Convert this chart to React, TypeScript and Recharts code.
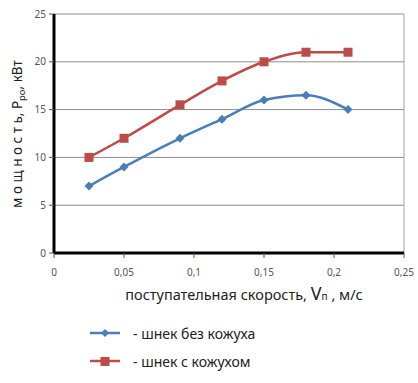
import React from "react";
import {
  LineChart,
  Line,
  XAxis,
  YAxis,
  CartesianGrid,
  ReferenceLine,
} from "recharts";

const speeds = [0.025, 0.05, 0.09, 0.12, 0.15, 0.18, 0.21];
const withoutCasing = [7, 9, 12, 14, 16, 16.5, 15];
const withCasing = [10, 12, 15.5, 18, 20, 21, 21];
const xTicks = [0, 0.05, 0.1, 0.15, 0.2, 0.25];
const yTicks = [0, 5, 10, 15, 20, 25];

const BLUE = "#4a7ebb";
const RED = "#be4b48";
const FONT = "'Noto Sans', 'Open Sans', sans-serif";

const data = speeds.map((v, i) => ({
  v,
  a: withoutCasing[i],
  b: withCasing[i],
}));

const fmt = (n: number) => String(n).replace(".", ",");

function Diamond(props: any) {
  const { cx, cy } = props;
  if (cx == null || cy == null) return null;
  const r = 4.5;
  return (
    <polygon
      points={`${cx},${cy - r} ${cx + r},${cy} ${cx},${cy + r} ${cx - r},${cy}`}
      fill={BLUE}
    />
  );
}

function Square(props: any) {
  const { cx, cy } = props;
  if (cx == null || cy == null) return null;
  return <rect x={cx - 4.5} y={cy - 4.5} width={9} height={9} fill={RED} />;
}

function YTitle() {
  return (
    <text
      transform="translate(22,134) rotate(-90)"
      textAnchor="middle"
      fontFamily={FONT}
      fontSize={13.5}
      fill="#222"
    >
      м о щ н о с т ь, P
      <tspan fontSize={9.5} dy={3}>ро</tspan>
      <tspan dy={-3}>, кВт</tspan>
    </text>
  );
}

function XTitle() {
  return (
    <text
      x={244}
      y={300}
      textAnchor="middle"
      fontFamily={FONT}
      fontSize={14.5}
      fill="#222"
    >
      поступательная скорость,{" "}
      <tspan fontSize={18}>V</tspan>
      <tspan fontSize={10}>п</tspan> , м/с
    </text>
  );
}

function LegendBox() {
  const rows = [
    { label: "- шнек без кожуха", color: BLUE, sq: false },
    { label: "- шнек с кожухом", color: RED, sq: true },
  ];
  return (
    <div
      style={{
        position: "absolute",
        left: 90,
        top: 319,
        fontFamily: FONT,
        fontSize: 14,
        color: "#222",
      }}
    >
      {rows.map((r) => (
        <div
          key={r.label}
          style={{ display: "flex", alignItems: "center", height: 28 }}
        >
          <svg width={32} height={12} style={{ marginRight: 11 }}>
            <line x1={0} y1={6} x2={30} y2={6} stroke={r.color} strokeWidth={2.5} />
            {r.sq ? (
              <rect x={10.5} y={2} width={9} height={9} fill={r.color} />
            ) : (
              <polygon points="15,2 19,6 15,10 11,6" fill={r.color} />
            )}
          </svg>
          <span>{r.label}</span>
        </div>
      ))}
    </div>
  );
}

export default function App() {
  return (
    <div style={{ position: "absolute", left: 0, top: 0, width: 418, height: 383, background: "#fff" }}>
      <LineChart
        width={418}
        height={383}
        data={data}
        margin={{ top: 14, right: 14, bottom: 100, left: 10 }}
      >
        <CartesianGrid vertical={false} stroke="#8c8c8c" strokeWidth={1} />
        <ReferenceLine x={0.25} stroke="#a6a6a6" />
        <ReferenceLine x={0} stroke="#000" strokeWidth={3} />
        <ReferenceLine y={0} stroke="#000" strokeWidth={3} />
        <XAxis
          dataKey="v"
          type="number"
          domain={[0, 0.25]}
          ticks={xTicks}
          tickFormatter={fmt}
          height={30}
          axisLine={false}
          tickLine={{ stroke: "#555" }}
          tickSize={5}
          tickMargin={11}
          tick={{ fontSize: 10, fill: "#555", fontFamily: FONT }}
        />
        <YAxis
          type="number"
          domain={[0, 25]}
          ticks={yTicks}
          width={44}
          axisLine={false}
          tickLine={{ stroke: "#555" }}
          tickSize={5}
          tickMargin={3}
          tick={{ fontSize: 10, fill: "#555", fontFamily: FONT }}
        />
        <Line
          dataKey="a"
          type="monotone"
          stroke={BLUE}
          strokeWidth={2.5}
          dot={<Diamond />}
          activeDot={false}
          isAnimationActive={false}
        />
        <Line
          dataKey="b"
          type="monotone"
          stroke={RED}
          strokeWidth={2.5}
          dot={<Square />}
          activeDot={false}
          isAnimationActive={false}
        />
        <YTitle />
        <XTitle />
      </LineChart>
      <LegendBox />
    </div>
  );
}
